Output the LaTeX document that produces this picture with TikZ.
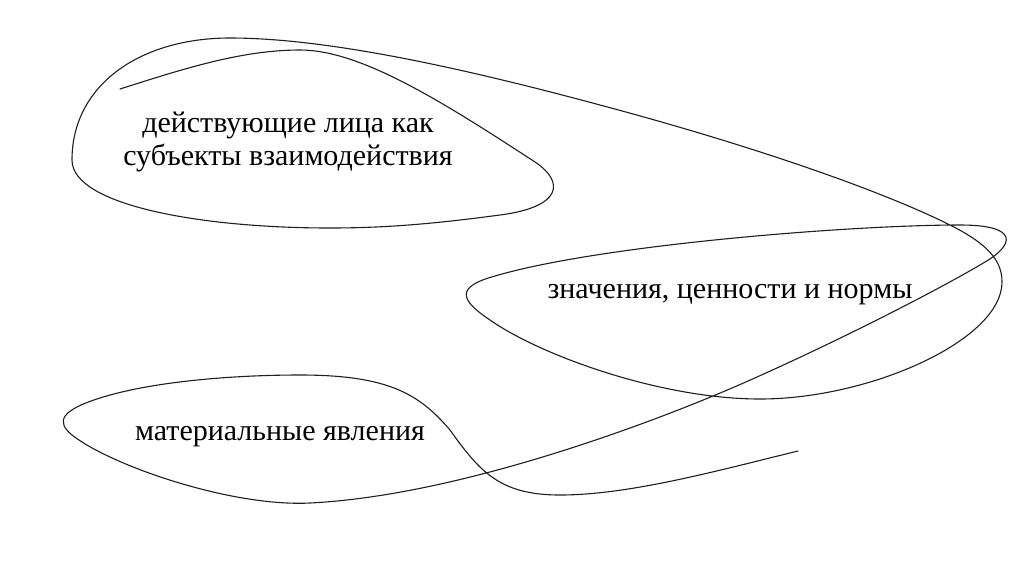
\documentclass[tikz,border=0pt]{standalone}
\usepackage{fontspec}
\setmainfont{Liberation Serif}
\begin{document}
\begin{tikzpicture}[x=1pt,y=-1pt,
  lbl/.style={inner sep=0pt, anchor=base, text=black, font=\fontsize{30}{33}\selectfont},
  stroke/.style={draw=black!88, line width=1.1pt, line join=round, line cap=round}]
\useasboundingbox (0,0) rectangle (1024,574);
\fill[white] (0,0) rectangle (1024,574);
\draw[stroke]
 (120,89) .. controls (180,70) and (240,50) .. (300,50)
 .. controls (360,50) and (440,100) .. (535,162)
 .. controls (565,182) and (562,207) .. (500,215)
 .. controls (440,223) and (390,228) .. (330,228)
 .. controls (200,228) and (72,205) .. (72,160)
 .. controls (72,85) and (140,38) .. (230,38)
 .. controls (330,38) and (470,70) .. (600,105)
 .. controls (750,145) and (880,190) .. (950,225)
 .. controls (990,245) and (1002,262) .. (1002,282)
 .. controls (1002,340) and (870,399) .. (760,399)
 .. controls (660,399) and (540,355) .. (490,320)
 .. controls (460,300) and (455,287) .. (495,276)
 .. controls (600,245) and (850,225) .. (960,225)
 .. controls (1020,225) and (1014,245) .. (985,262)
 .. controls (930,295) and (800,360) .. (713,396)
 .. controls (626,432) and (450,496) .. (310,503)
 .. controls (230,507) and (110,465) .. (72,435)
 .. controls (55,421) and (62,410) .. (100,398)
 .. controls (150,382) and (230,375) .. (300,375)
 .. controls (390,375) and (420,395) .. (450,430)
 .. controls (480,472) and (500,495) .. (560,495)
 .. controls (630,495) and (720,470) .. (798,451);
\node[lbl] (t1a) at (288,132) {действующие лица как};
\node[lbl] (t1b) at (288,165) {субъекты взаимодействия};
\node[lbl] (t2) at (730,298) {значения, ценности и нормы};
\node[lbl] (t3) at (280,440) {материальные явления};
\end{tikzpicture}
\end{document}
